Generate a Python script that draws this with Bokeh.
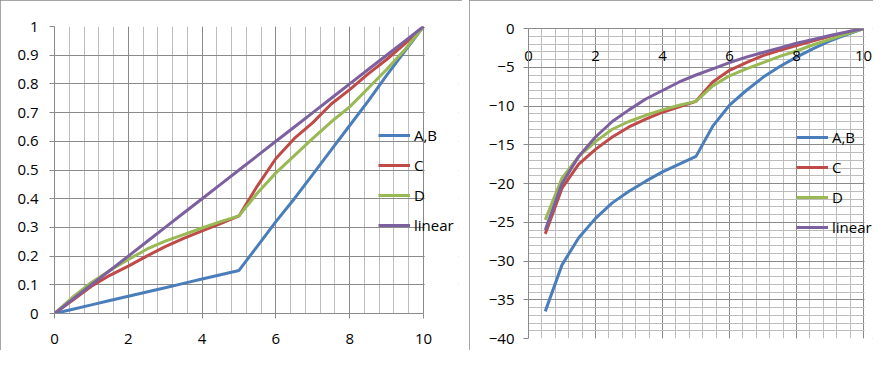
from bokeh.plotting import figure
from bokeh.models import (Range1d, SingleIntervalTicker, FixedTicker, Legend, LegendItem,
                          BoxAnnotation, LinearAxis, AllLabels)
from bokeh.embed import file_html
from bokeh.resources import INLINE

# ---------------- data ----------------
series_names = ["A,B", "C", "D", "linear"]
series_colors = ["#4A7EBB", "#BE4B48", "#98B954", "#7D60A0"]

# left chart (linear scale)
x_lin = [0, 0.5, 1, 1.5, 2, 2.5, 3, 3.5, 4, 4.5, 5, 5.5, 6, 6.5, 7, 7.5, 8, 8.5, 9, 9.5, 10]
ab_lin = [0, 0.015, 0.03, 0.045, 0.06, 0.075, 0.09, 0.105, 0.12, 0.135, 0.15,
          0.235, 0.32, 0.40, 0.485, 0.57, 0.655, 0.74, 0.83, 0.915, 1.0]
c_lin = [0, 0.047, 0.095, 0.133, 0.165, 0.2, 0.233, 0.262, 0.288, 0.313, 0.34,
         0.445, 0.54, 0.61, 0.665, 0.73, 0.78, 0.835, 0.885, 0.94, 1.0]
d_lin = [0, 0.058, 0.108, 0.15, 0.188, 0.224, 0.252, 0.275, 0.298, 0.32, 0.34,
         0.42, 0.49, 0.55, 0.61, 0.668, 0.72, 0.785, 0.85, 0.92, 1.0]
linear_lin = [0, 0.05, 0.1, 0.15, 0.2, 0.25, 0.3, 0.35, 0.4, 0.45, 0.5,
              0.55, 0.6, 0.65, 0.7, 0.75, 0.8, 0.85, 0.9, 0.95, 1.0]

y_ticks_left = [0, 0.1, 0.2, 0.3, 0.4, 0.5, 0.6, 0.7, 0.8, 0.9, 1.0]
y_labels_left = ["0", "0.1", "0.2", "0.3", "0.4", "0.5", "0.6", "0.7", "0.8", "0.9", "1"]

# right chart (dB scale)
x_db = [0.5, 1, 1.5, 2, 2.5, 3, 3.5, 4, 4.5, 5, 5.5, 6, 6.5, 7, 7.5, 8, 8.5, 9, 9.5, 10]
ab_db = [-36.5, -30.5, -27.0, -24.5, -22.5, -21.0, -19.7, -18.5, -17.5, -16.5,
         -12.6, -9.9, -8.0, -6.3, -4.9, -3.7, -2.6, -1.6, -0.8, 0]
c_db = [-26.5, -20.6, -17.5, -15.6, -14.0, -12.7, -11.7, -10.8, -10.1, -9.4,
        -6.9, -5.4, -4.4, -3.5, -2.8, -2.2, -1.6, -1.0, -0.5, 0]
d_db = [-24.7, -19.3, -16.5, -14.6, -13.0, -12.0, -11.2, -10.5, -9.9, -9.4,
        -7.4, -6.1, -5.2, -4.4, -3.6, -2.9, -2.1, -1.4, -0.7, 0]
linear_db = [-26.0, -20.0, -16.5, -14.0, -12.0, -10.5, -9.1, -8.0, -6.9, -6.0,
             -5.2, -4.4, -3.7, -3.1, -2.5, -1.9, -1.4, -0.9, -0.45, 0]

FONT = "Open Sans"
FS = "15px"
MAJOR = "#8a8a8a"
MINOR = "#bdbdbd"


def style_axis(ax, standoff, tick_out=5):
    ax.axis_line_color = MAJOR
    ax.major_tick_line_color = MAJOR
    ax.major_tick_out = tick_out
    ax.major_tick_in = 0
    ax.minor_tick_out = 0
    ax.minor_tick_in = 0
    ax.major_label_text_font = FONT
    ax.major_label_text_font_size = FS
    ax.major_label_text_color = "#000000"
    ax.major_label_standoff = standoff
    ax.major_label_policy = AllLabels()


def add_legend(p, renderers, loc):
    items = [LegendItem(label=n, renderers=[r]) for n, r in zip(series_names, renderers)]
    lg = Legend(items=items, location=loc, orientation="vertical",
                glyph_width=32, glyph_height=20, label_height=20, spacing=10,
                padding=0, margin=0, label_standoff=4,
                background_fill_alpha=0, border_line_alpha=0,
                label_text_font=FONT, label_text_font_size=FS, label_text_color="#000000")
    p.add_layout(lg)


def mask_right(p, x_from):
    # hide the grid to the right of the data area (legend overhangs there)
    p.add_layout(BoxAnnotation(left=x_from, fill_color="white", fill_alpha=1.0,
                               line_alpha=0, level="underlay"))


# ---------------- left chart ----------------
L_W, L_H = 462, 350
L_FL, L_FT, L_FB = 54, 26, 313          # frame left / top / bottom (px)
L_X10 = 423                              # pixel of x = 10
L_FR = 458                               # extended frame right (room for legend labels)
l_xend = 10 * (L_FR - L_FL) / (L_X10 - L_FL)

p1 = figure(width=L_W, height=L_H, x_range=Range1d(0, l_xend), y_range=Range1d(0, 1),
            output_backend="svg", toolbar_location=None,
            min_border_left=L_FL, min_border_right=L_W - L_FR,
            min_border_top=L_FT, min_border_bottom=L_H - L_FB)
p1.outline_line_color = None
p1.styles = {"outline": "1px solid #8a8a8a", "outline-offset": "-1px", "float": "left"}
xt1 = SingleIntervalTicker(interval=2, num_minor_ticks=5)
p1.xaxis[0].ticker = xt1
p1.xaxis[0].bounds = (0, 10)
p1.yaxis[0].ticker = FixedTicker(ticks=y_ticks_left)
p1.yaxis[0].major_label_overrides = {float(t): l for t, l in zip(y_ticks_left, y_labels_left)}
p1.xgrid[0].ticker = xt1
p1.xgrid[0].bounds = (0, 10)
p1.xgrid[0].grid_line_color = MAJOR
p1.xgrid[0].minor_grid_line_color = MINOR
p1.ygrid[0].grid_line_color = MAJOR
style_axis(p1.xaxis[0], 15)
style_axis(p1.yaxis[0], 11)
mask_right(p1, 10.03)

r1 = []
for ys, c in zip([ab_lin, c_lin, d_lin, linear_lin], series_colors):
    r1.append(p1.line(x_lin, ys, line_color=c, line_width=3, line_join="round"))
add_legend(p1, r1, (324, L_FB - 235))

# ---------------- right chart ----------------
R_W, R_H = 404, 350
R_FL, R_FT, R_FB = 59, 28, 338           # frame left / top / bottom within the figure
R_X10 = 394                              # pixel of x = 10 within the figure
R_FR = 404
r_xend = 10 * (R_FR - R_FL) / (R_X10 - R_FL)

p2 = figure(width=R_W, height=R_H, x_range=Range1d(0, r_xend), y_range=Range1d(-40, 0),
            output_backend="svg", toolbar_location=None, x_axis_location=None,
            min_border_left=R_FL, min_border_right=R_W - R_FR,
            min_border_top=R_FT, min_border_bottom=R_H - R_FB)
p2.outline_line_color = None
p2.styles = {"outline": "1px solid #8a8a8a", "outline-offset": "-1px",
             "float": "left", "margin-left": "7px"}
xt2 = SingleIntervalTicker(interval=2, num_minor_ticks=5)
top_axis = LinearAxis(ticker=xt2, bounds=(0, 10))
style_axis(top_axis, -32, tick_out=0)
p2.add_layout(top_axis, "above")
p2.yaxis[0].ticker = SingleIntervalTicker(interval=5, num_minor_ticks=5)
style_axis(p2.yaxis[0], 9)
p2.xgrid[0].ticker = xt2
p2.xgrid[0].bounds = (0, 10)
for g in (p2.xgrid[0], p2.ygrid[0]):
    g.grid_line_color = MAJOR
    g.minor_grid_line_color = MINOR
mask_right(p2, 10.03)

r2 = []
for ys, c in zip([ab_db, c_db, d_db, linear_db], series_colors):
    r2.append(p2.line(x_db, ys, line_color=c, line_width=3, line_join="round"))
add_legend(p2, r2, (268, R_FB - 237))

open("out.html", "w").write(file_html([p1, p2], INLINE))
